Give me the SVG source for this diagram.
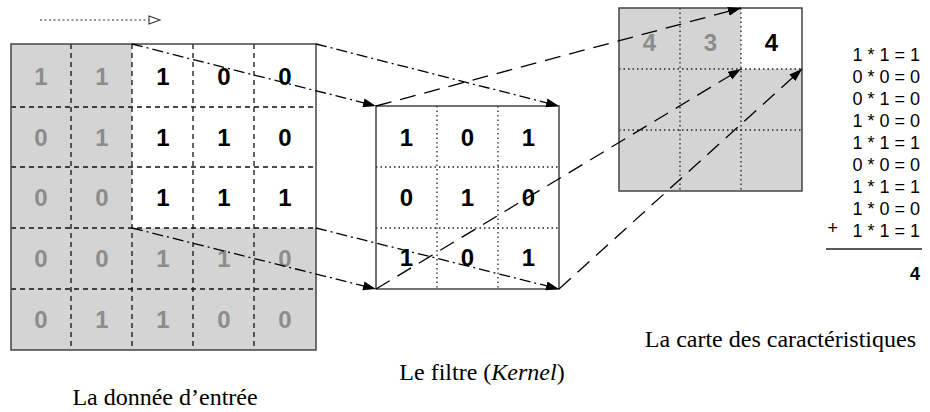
<svg xmlns="http://www.w3.org/2000/svg" width="930" height="412" viewBox="0 0 930 412">
<style>
.bg{fill:#fff}
.gray{fill:#d4d4d4}
.border{fill:none;stroke:#444;stroke-width:1.5}
.dash{stroke:#111;stroke-width:1.3;stroke-dasharray:5 4;fill:none}
.dot{stroke:#222;stroke-width:1.3;stroke-dasharray:1.5 3;fill:none}
.num{font-family:"Liberation Sans",Arial,sans-serif;font-weight:bold;font-size:24px;text-anchor:middle}
.nb{fill:#000}
.ng{fill:#8c8c8c}
.eq{font-family:"Liberation Sans",Arial,sans-serif;font-size:18px;text-anchor:end;fill:#000}
.lbl{font-family:"Liberation Serif","Times New Roman",serif;font-size:24px;fill:#000}
.dd{stroke:#000;stroke-width:1.3;stroke-dasharray:11 4 2 4;fill:none}
.ld{stroke:#000;stroke-width:1.3;stroke-dasharray:16 9;fill:none}
</style>
<defs>
<marker id="ah" markerUnits="userSpaceOnUse" markerWidth="14" markerHeight="10" refX="13" refY="4.5" orient="auto">
<path d="M0,0 L13,4.5 L0,9 z" fill="#000"/>
</marker>
<marker id="oh" markerUnits="userSpaceOnUse" markerWidth="14" markerHeight="12" refX="12" refY="5" orient="auto">
<path d="M1,1 L12,5 L1,9 z" fill="#fff" stroke="#333" stroke-width="1.1"/>
</marker>
</defs>

<g id="stride-arrow">
<line x1="40" y1="20" x2="160" y2="20" stroke="#333" stroke-width="1.1" stroke-dasharray="2 2.5" marker-end="url(#oh)"/>
</g>

<g id="input">
<rect x="11" y="44" width="305" height="306" class="gray"/>
<rect x="132" y="44" width="184" height="184" class="bg"/>
<line x1="71" y1="44" x2="71" y2="350" class="dash"/>
<line x1="132" y1="44" x2="132" y2="350" class="dash"/>
<line x1="193" y1="44" x2="193" y2="350" class="dash"/>
<line x1="254" y1="44" x2="254" y2="350" class="dash"/>
<line x1="11" y1="107" x2="316" y2="107" class="dash"/>
<line x1="11" y1="167" x2="316" y2="167" class="dash"/>
<line x1="11" y1="228" x2="316" y2="228" class="dash"/>
<line x1="11" y1="289" x2="316" y2="289" class="dash"/>
<rect x="11" y="44" width="305" height="306" class="border"/>
<g class="num">
<text x="41" y="85" class="ng">1</text><text x="102" y="85" class="ng">1</text><text x="163" y="85" class="nb">1</text><text x="224" y="85" class="nb">0</text><text x="285" y="85" class="nb">0</text>
<text x="41" y="146" class="ng">0</text><text x="102" y="146" class="ng">1</text><text x="163" y="146" class="nb">1</text><text x="224" y="146" class="nb">1</text><text x="285" y="146" class="nb">0</text>
<text x="41" y="206" class="ng">0</text><text x="102" y="206" class="ng">0</text><text x="163" y="206" class="nb">1</text><text x="224" y="206" class="nb">1</text><text x="285" y="206" class="nb">1</text>
<text x="41" y="267" class="ng">0</text><text x="102" y="267" class="ng">0</text><text x="163" y="267" class="ng">1</text><text x="224" y="267" class="ng">1</text><text x="285" y="267" class="ng">0</text>
<text x="41" y="328" class="ng">0</text><text x="102" y="328" class="ng">1</text><text x="163" y="328" class="ng">1</text><text x="224" y="328" class="ng">0</text><text x="285" y="328" class="ng">0</text>
</g>
</g>

<g id="kernel">
<rect x="376" y="106" width="183" height="183" class="bg"/>
<line x1="437" y1="106" x2="437" y2="289" class="dot"/>
<line x1="498" y1="106" x2="498" y2="289" class="dot"/>
<line x1="376" y1="167" x2="559" y2="167" class="dot"/>
<line x1="376" y1="228" x2="559" y2="228" class="dot"/>
<rect x="376" y="106" width="183" height="183" class="border"/>
<g class="num nb">
<text x="406.5" y="146">1</text><text x="467.5" y="146">0</text><text x="528.5" y="146">1</text>
<text x="406.5" y="206">0</text><text x="467.5" y="206">1</text><text x="528.5" y="206">0</text>
<text x="406.5" y="266">1</text><text x="467.5" y="266">0</text><text x="528.5" y="266">1</text>
</g>
</g>

<g id="feature-map">
<rect x="619" y="8" width="183" height="183" class="gray"/>
<rect x="741" y="8" width="61" height="61" class="bg"/>
<line x1="680" y1="8" x2="680" y2="191" class="dot"/>
<line x1="741" y1="8" x2="741" y2="191" class="dot"/>
<line x1="619" y1="69" x2="802" y2="69" class="dot"/>
<line x1="619" y1="130" x2="802" y2="130" class="dot"/>
<rect x="619" y="8" width="183" height="183" class="border"/>
<g class="num">
<text x="649.5" y="51" class="ng">4</text><text x="710.5" y="51" class="ng">3</text><text x="771.5" y="51" class="nb">4</text>
</g>
</g>

<g id="connectors">
<line x1="132" y1="44" x2="376" y2="106" class="dd" marker-end="url(#ah)"/>
<line x1="316" y1="44" x2="559" y2="106" class="dd" marker-end="url(#ah)"/>
<line x1="132" y1="228" x2="376" y2="289" class="dd" marker-end="url(#ah)"/>
<line x1="316" y1="228" x2="559" y2="289" class="dd" marker-end="url(#ah)"/>
<line x1="376" y1="106" x2="741" y2="8" class="ld" marker-end="url(#ah)"/>
<line x1="376" y1="289" x2="741" y2="69" class="ld" marker-end="url(#ah)"/>
<line x1="559" y1="289" x2="802" y2="69" class="ld" marker-end="url(#ah)"/>
</g>

<g id="equations">
<text x="920" y="60.5" class="eq">1 * 1 = 1</text>
<text x="920" y="82.5" class="eq">0 * 0 = 0</text>
<text x="920" y="104.5" class="eq">0 * 1 = 0</text>
<text x="920" y="126.5" class="eq">1 * 0 = 0</text>
<text x="920" y="148.5" class="eq">1 * 1 = 1</text>
<text x="920" y="170.5" class="eq">0 * 0 = 0</text>
<text x="920" y="192.5" class="eq">1 * 1 = 1</text>
<text x="920" y="214.5" class="eq">1 * 0 = 0</text>
<text x="920" y="236.5" class="eq">1 * 1 = 1</text>
<text x="838" y="234" class="eq">+</text>
<line x1="826" y1="249" x2="922" y2="249" stroke="#222" stroke-width="1.3"/>
<text x="920" y="280" class="eq" font-weight="bold">4</text>
</g>

<g id="labels">
<text x="165" y="405" class="lbl" text-anchor="middle">La donnée d’entrée</text>
<text x="482" y="380" class="lbl" text-anchor="middle">Le filtre (<tspan font-style="italic">Kernel</tspan>)</text>
<text x="916" y="347" class="lbl" text-anchor="end">La carte des caractéristiques</text>
</g>
</svg>
